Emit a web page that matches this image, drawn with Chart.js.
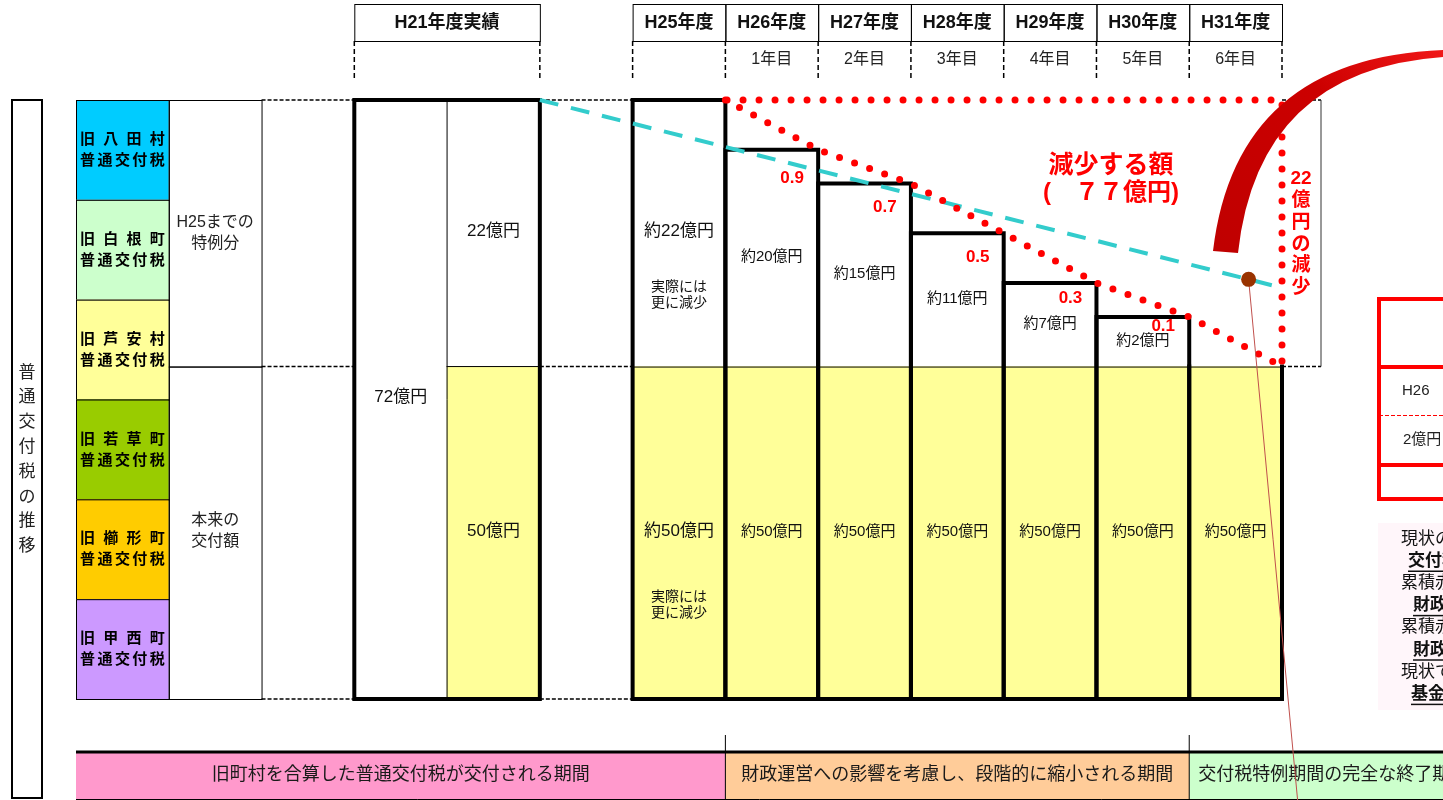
<!DOCTYPE html>
<html><head><meta charset="utf-8">
<script src="https://cdn.jsdelivr.net/npm/chart.js@4.4.1/dist/chart.umd.min.js"></script>
<style>html,body{margin:0;padding:0;background:#fff;overflow:hidden}canvas{display:block}</style>
</head><body>
<canvas id="c" width="1443" height="800"></canvas>
<script>
// ---------- data ----------
const categories = ['凡例','区分','','H21年度実績(合計)','H21年度実績(内訳)','','H25年度','H26年度','H27年度','H28年度','H29年度','H30年度','H31年度'];
const yearHeaders = ['H25年度','H26年度','H27年度','H28年度','H29年度','H30年度','H31年度'];
const yearCounts = ['','1年目','2年目','3年目','4年目','5年目','6年目'];
const baseValues    = [null,null,null,null,50,null,50,50,50,50,50,50,50];
const specialValues = [null,null,null,null,22,null,22,17.9,15.1,11,6.9,4.1,0];
const totalValues   = [null,null,null,72,null,null,null,null,null,null,null,null,null];
const baseLabels    = ['','','','','50億円','','約50億円','約50億円','約50億円','約50億円','約50億円','約50億円','約50億円'];
const specialLabels = ['','','','','22億円','','約22億円','約20億円','約15億円','約11億円','約7億円','約2億円',''];
const totalLabels   = ['','','','72億円','','','','','','','','',''];
const rateLabels = ['0.9','0.7','0.5','0.3','0.1'];
const trendX = [5, 13];
const trendValues = [72, 56.5];
const townNames = ['旧八田村','旧白根町','旧芦安村','旧若草町','旧櫛形町','旧甲西町'];
const townColors = ['#00CCFF','#CCFFCC','#FFFF99','#99CC00','#FFCC00','#CC99FF'];
const periodLabels = ['旧町村を合算した普通交付税が交付される期間','財政運営への影響を考慮し、段階的に縮小される期間','交付税特例期間の完全な終了期間'];
const periodColors = ['#FF99CC','#FFCC99','#CCFFCC'];
const sideNotes = ['現状のまま','交付税','累積赤字','財政破綻','累積赤字','財政破綻','現状では','基金'];

// ---------- derived series ----------
const trendPoints = trendX.map((x, i) => ({x, y: trendValues[i]}));
const reductionPoints = [];
for (let k = 6; k < categories.length; k++) reductionPoints.push({x: k + 1, y: baseValues[k] + specialValues[k]});
const topValue = baseValues[6] + specialValues[6];
reductionPoints.push({x: categories.length, y: topValue});
reductionPoints.push({x: 7, y: topValue});

// ---------- broken (piecewise) value scale ----------
const BREAK_VALUE = 50, BREAK_FRACTION = 0.555;
class BrokenScale extends Chart.LinearScale {
  getPixelForValue(value) {
    if (value === null || value === undefined || isNaN(value)) return NaN;
    const h = this.bottom - this.top, lowH = h * BREAK_FRACTION;
    if (value <= BREAK_VALUE) return this.bottom - (value - this.min) / (BREAK_VALUE - this.min) * lowH;
    return this.bottom - lowH - (value - BREAK_VALUE) / (this.max - BREAK_VALUE) * (h - lowH);
  }
  getValueForPixel(pixel) {
    const h = this.bottom - this.top, lowH = h * BREAK_FRACTION;
    const d = this.bottom - pixel;
    if (d <= lowH) return this.min + d / lowH * (BREAK_VALUE - this.min);
    return BREAK_VALUE + (d - lowH) / (h - lowH) * (this.max - BREAK_VALUE);
  }
}
BrokenScale.id = 'broken';
BrokenScale.defaults = {};
Chart.register(BrokenScale);

// ---------- drawing helpers ----------
const FONT = '"Liberation Sans", "Noto Sans CJK JP", sans-serif';
const fnt = (s, b) => (b ? 'bold ' : '') + s + 'px ' + FONT;
function txt(ctx, s, x, y, font, color, align) {
  ctx.font = font; ctx.fillStyle = color || '#111';
  ctx.textAlign = align || 'center'; ctx.textBaseline = 'middle';
  ctx.fillText(s, x, y);
}
function ln(ctx, x1, y1, x2, y2, w, color, dash) {
  ctx.save(); ctx.beginPath(); ctx.lineWidth = w; ctx.strokeStyle = color || '#000';
  ctx.setLineDash(dash || []); ctx.moveTo(x1, y1); ctx.lineTo(x2, y2); ctx.stroke(); ctx.restore();
}
function spread(ctx, s, x0, x1, y, font, color) {
  const ch = [...s], n = ch.length;
  ctx.font = font; ctx.fillStyle = color || '#000'; ctx.textAlign = 'center'; ctx.textBaseline = 'middle';
  ch.forEach((c, i) => ctx.fillText(c, n === 1 ? (x0 + x1) / 2 : x0 + (x1 - x0) * i / (n - 1), y));
}

const diagram = {
  id: 'diagram',
  beforeDatasetsDraw(chart) {
    const ctx = chart.ctx;
    const xl = chart.scales.xl, y = chart.scales.y;
    const X = v => xl.getPixelForValue(v), Y = v => y.getPixelForValue(v);
    const yTop = Y(72), yMid = Y(50), yBot = Y(0);
    const W = chart.width;
    ctx.save();

    // left title box
    ctx.lineWidth = 2; ctx.strokeStyle = '#000';
    ctx.strokeRect(12, yTop, 30, 798 - yTop);
    [...'普通交付税の推移'].forEach((c, i) => txt(ctx, c, 27, 373 + 24.8 * i, fnt(17), '#222'));

    // legend column (towns)
    const rowH = (yBot - yTop) / townNames.length;
    townNames.forEach((name, i) => {
      const t = yTop + i * rowH, L = X(0), R = X(1);
      ctx.fillStyle = townColors[i]; ctx.fillRect(L, t, R - L, rowH);
      ctx.lineWidth = 1; ctx.strokeStyle = '#000'; ctx.strokeRect(L + 0.5, t + 0.5, R - L, rowH);
      const cy = t + rowH / 2;
      spread(ctx, name, L + 11.5, R - 11.5, cy - 10, fnt(15, true));
      spread(ctx, '普通交付税', L + 11.5, R - 11.5, cy + 11, fnt(15, true));
    });

    // category column
    ctx.lineWidth = 1; ctx.strokeStyle = '#000';
    ctx.strokeRect(X(1) + 0.5, yTop + 0.5, X(2) - X(1), yMid - yTop);
    ctx.strokeRect(X(1) + 0.5, yMid + 0.5, X(2) - X(1), yBot - yMid);
    const c1 = (X(1) + X(2)) / 2;
    txt(ctx, 'H25までの', c1, (yTop + yMid) / 2 - 11, fnt(16), '#222');
    txt(ctx, '特例分', c1, (yTop + yMid) / 2 + 10, fnt(16), '#222');
    txt(ctx, '本来の', c1, (yMid + yBot) / 2 - 12, fnt(16), '#222');
    txt(ctx, '交付額', c1, (yMid + yBot) / 2 + 9, fnt(16), '#222');

    // dashed guide lines
    [yTop, yMid, yBot].forEach(yy => {
      ln(ctx, X(2), yy, X(3), yy, 1.5, '#000', [4, 2]);
      ln(ctx, X(5), yy, X(6), yy, 1.5, '#000', [4, 2]);
    });
    const bx = X(13) + 39;
    ln(ctx, X(13), yTop, bx, yTop, 1.5, '#000', [4, 2]);
    ln(ctx, X(13), yMid, bx, yMid, 1.5, '#000', [4, 2]);
    ln(ctx, bx, yTop, bx, yMid, 1, '#333');

    // header table
    const hT = 4, hB = 41, hD = 78;
    ctx.lineWidth = 1; ctx.strokeStyle = '#000';
    ctx.strokeRect(X(3) + 0.5, hT + 0.5, X(5) - X(3), hB - hT);
    txt(ctx, 'H21年度実績', (X(3) + X(5)) / 2, (hT + hB) / 2 + 1, fnt(18, true), '#111');
    yearHeaders.forEach((h, j) => {
      const k = 6 + j;
      ctx.strokeRect(X(k) + 0.5, hT + 0.5, X(k + 1) - X(k), hB - hT);
      txt(ctx, h, (X(k) + X(k + 1)) / 2, (hT + hB) / 2 + 1, fnt(18, true), '#111');
      if (yearCounts[j]) txt(ctx, yearCounts[j], (X(k) + X(k + 1)) / 2, 60, fnt(16), '#222');
    });
    [3, 5, 6, 7, 8, 9, 10, 11, 12, 13].forEach(k => ln(ctx, X(k), hB, X(k), hD, 1.5, '#000', [5, 3]));

    // bottom period bands
    ln(ctx, X(7), 735, X(7), 752, 1, '#000');
    ln(ctx, X(12), 735, X(12), 752, 1, '#000');
    const bands = [[X(0), X(7)], [X(7), X(12)], [X(12), W]];
    bands.forEach((b, i) => { ctx.fillStyle = periodColors[i]; ctx.fillRect(b[0], 752, b[1] - b[0], 48); });
    ln(ctx, X(0), 752, W, 752, 3, '#000');
    ln(ctx, X(0), 799.5, W, 799.5, 1, '#000');
    ln(ctx, X(7), 752, X(7), 800, 1, '#000');
    ln(ctx, X(12), 752, X(12), 800, 1, '#000');
    txt(ctx, periodLabels[0], (X(0) + X(7)) / 2, 775, fnt(18), '#1a1a1a');
    txt(ctx, periodLabels[1], (X(7) + X(12)) / 2, 775, fnt(18), '#1a1a1a');
    txt(ctx, periodLabels[2], X(12) + 9, 775, fnt(18), '#1a1a1a', 'left');

    // partial red table at the right edge
    ctx.strokeStyle = '#FF0000'; ctx.lineWidth = 4;
    ctx.beginPath(); ctx.moveTo(W + 5, 299); ctx.lineTo(1379, 299); ctx.lineTo(1379, 499); ctx.lineTo(W + 5, 499); ctx.stroke();
    ln(ctx, 1379, 367, W, 367, 4, '#FF0000');
    ln(ctx, 1379, 465, W, 465, 4, '#FF0000');
    ln(ctx, 1379, 415.5, W, 415.5, 1, '#FF0000', [4, 2]);
    txt(ctx, 'H26', 1402, 391, fnt(15), '#222', 'left');
    txt(ctx, '2億円', 1403, 440, fnt(15), '#222', 'left');

    // side note block
    ctx.fillStyle = '#FFF6FA'; ctx.fillRect(1378, 523, W - 1378, 187);
    const noteX = [1401, 1408, 1401, 1413, 1401, 1413, 1401, 1411];
    sideNotes.forEach((s, i) => {
      const bold = i % 2 === 1, yy = 539 + 22.2 * i;
      txt(ctx, s, noteX[i], yy, fnt(17, bold), '#111', 'left');
      if (bold) ln(ctx, noteX[i], yy + 10, W, yy + 10, 1.5, '#111');
    });
    ctx.restore();
  },

  beforeDatasetDraw(chart, args) {
    if (args.index !== 3) return; // draw bar outlines just before the trend line
    const ctx = chart.ctx;
    const mb = chart.getDatasetMeta(0).data, ms = chart.getDatasetMeta(1).data, mt = chart.getDatasetMeta(2).data;
    ctx.save();
    ctx.strokeStyle = '#000'; ctx.lineCap = 'square';
    // H21 block
    const t3 = mt[3], b4 = mb[4], s4 = ms[4];
    const L21 = t3.x - t3.width / 2, M21 = t3.x + t3.width / 2, R21 = b4.x + b4.width / 2;
    ln(ctx, M21, t3.y, M21, t3.base, 1, '#000');
    ln(ctx, M21, b4.y, R21, b4.y, 1, '#000');
    ctx.lineWidth = 4; ctx.strokeRect(L21, t3.y, R21 - L21, t3.base - t3.y);
    txt(ctx, totalLabels[3], t3.x, (t3.y + t3.base) / 2 - 2, fnt(17), '#111');
    txt(ctx, specialLabels[4], s4.x, (s4.y + s4.base) / 2 - 2, fnt(17), '#111');
    txt(ctx, baseLabels[4], b4.x, (b4.y + b4.base) / 2 - 1, fnt(17), '#111');
    // H25..H31
    for (let k = 6; k < categories.length; k++) {
      const b = mb[k], s = ms[k];
      const L = b.x - b.width / 2, R = b.x + b.width / 2;
      const has = specialValues[k] > 0;
      const top = has ? s.y : b.y;
      ln(ctx, L, b.y + 0.5, R, b.y + 0.5, 1, '#000');
      ctx.lineWidth = 4; ctx.setLineDash([]);
      ctx.beginPath();
      ctx.moveTo(L, top); ctx.lineTo(L, b.base); ctx.lineTo(R, b.base); ctx.lineTo(R, top);
      if (has) { ctx.moveTo(L, top); ctx.lineTo(R, top); }
      ctx.stroke();
      const big = k === 6;
      if (has) txt(ctx, specialLabels[k], s.x, (s.y + s.base) / 2 - (big ? 2 : 1), fnt(big ? 17 : 15), '#111');
      txt(ctx, baseLabels[k], b.x, (b.y + b.base) / 2 - 1, fnt(big ? 17 : 15), '#111');
      if (big) {
        const cs = (s.y + s.base) / 2, cb = (b.y + b.base) / 2;
        txt(ctx, '実際には', s.x, cs + 54, fnt(14), '#111');
        txt(ctx, '更に減少', s.x, cs + 70, fnt(14), '#111');
        txt(ctx, '実際には', b.x, cb + 64, fnt(14), '#111');
        txt(ctx, '更に減少', b.x, cb + 80, fnt(14), '#111');
      }
    }
    ctx.restore();
  },

  afterDatasetsDraw(chart) {
    const ctx = chart.ctx;
    const xl = chart.scales.xl, yl = chart.scales.yl;
    const X = v => xl.getPixelForValue(v), Y = v => yl.getPixelForValue(v);
    const ms = chart.getDatasetMeta(1).data;
    ctx.save();
    // reduction rates
    const rateOffsets = [29, 24, 24, 15, 9];
    rateLabels.forEach((r, i) => {
      const k = 7 + i, s = ms[k];
      txt(ctx, r, X(k + 1) - 26, s.y + rateOffsets[i], fnt(17, true), '#FF0000');
    });
    // red titles
    txt(ctx, '減少する額', 1111, 166, fnt(25, true), '#FF0000');
    txt(ctx, '(　７７億円)', 1111, 193, fnt(24, true), '#FF0000');
    txt(ctx, '22', 1301, 179, fnt(19, true), '#FF0000');
    [...'億円の減少'].forEach((c, i) => txt(ctx, c, 1301, 201 + 21.7 * i, fnt(19, true), '#FF0000'));
    // marker on trend line with leader
    const mx = 12.64;
    const my = trendValues[0] + (trendValues[1] - trendValues[0]) * (mx - trendX[0]) / (trendX[1] - trendX[0]);
    const px = X(mx), py = Y(my);
    ln(ctx, px, py, px + 49, 800, 1, '#C0504D');
    ctx.fillStyle = '#993300'; ctx.beginPath(); ctx.arc(px, py, 7.5, 0, Math.PI * 2); ctx.fill();
    // big red curved arrow
    const g = ctx.createLinearGradient(1225, 250, 1443, 50);
    g.addColorStop(0, '#C00000'); g.addColorStop(0.6, '#CC0000'); g.addColorStop(1, '#F01818');
    ctx.fillStyle = g;
    ctx.beginPath();
    ctx.moveTo(1213, 251);
    ctx.quadraticCurveTo(1236, 58, 1443, 50);
    ctx.lineTo(1443, 57);
    ctx.quadraticCurveTo(1258, 70, 1238, 253);
    ctx.closePath(); ctx.fill();
    ctx.restore();
  }
};

new Chart(document.getElementById('c'), {
  type: 'bar',
  data: {
    labels: categories,
    datasets: [
      {label: '本来の交付額', data: baseValues, backgroundColor: '#FFFF99', order: 3, stack: 'amount', xAxisID: 'x', yAxisID: 'y'},
      {label: 'H25までの特例分', data: specialValues, backgroundColor: '#FFFFFF', order: 4, stack: 'amount', xAxisID: 'x', yAxisID: 'y'},
      {label: 'H21年度実績', data: totalValues, backgroundColor: '#FFFFFF', order: 5, stack: 'amount', xAxisID: 'x', yAxisID: 'y'},
      {type: 'line', label: '減少ライン', data: trendPoints, xAxisID: 'xl', yAxisID: 'yl',
       borderColor: '#33CCCC', borderWidth: 4, borderDash: [19, 13], pointRadius: 0, fill: false, tension: 0, order: 2, clip: false},
      {type: 'line', label: '減少する額', data: reductionPoints, xAxisID: 'xl', yAxisID: 'yl',
       borderColor: '#FF0000', borderWidth: 7, borderDash: [0, 16], borderCapStyle: 'round', pointRadius: 0, fill: false, tension: 0, order: 1, clip: false}
    ]
  },
  options: {
    responsive: false, animation: false, events: [],
    layout: {padding: {left: 76, right: 161, top: 100, bottom: 101}},
    datasets: {bar: {barPercentage: 1, categoryPercentage: 1, borderWidth: 0, grouped: false}},
    plugins: {legend: {display: false}, tooltip: {enabled: false}, title: {display: false}},
    scales: {
      x: {type: 'category', stacked: true, display: false, offset: true},
      y: {type: 'broken', stacked: true, min: 0, max: 72, display: false},
      xl: {type: 'linear', axis: 'x', min: 0, max: 13, offset: false, display: false},
      yl: {type: 'broken', axis: 'y', min: 0, max: 72, display: false}
    }
  },
  plugins: [diagram]
});
</script>
</body></html>
